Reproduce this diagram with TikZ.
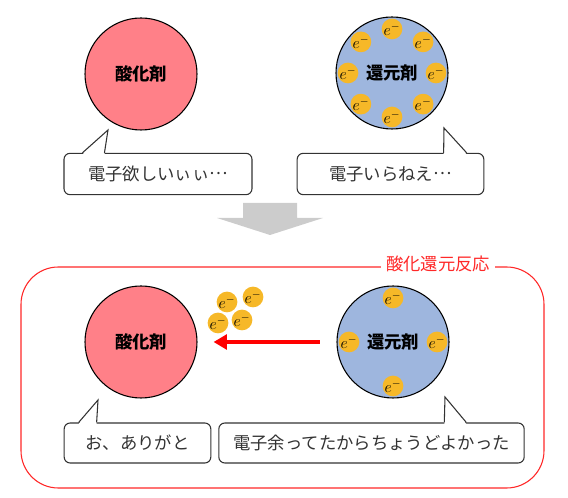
\documentclass[tikz,border=0pt]{standalone}
\usepackage{fontspec}
\setmainfont{Noto Sans CJK JP}
\usetikzlibrary{arrows.meta, positioning, calc}

\definecolor{oxpink}{RGB}{255,128,136}
\definecolor{redblue}{RGB}{158,182,222}
\definecolor{elecorange}{RGB}{246,184,40}
\definecolor{framered}{RGB}{255,40,40}

\begin{document}
\begin{tikzpicture}[
  x=0.75pt, y=-0.75pt,
  agent/.style={circle, draw=black, line width=0.8pt, minimum size=84pt,
    inner sep=0pt, font=\fontsize{13}{15}\selectfont\bfseries},
  oxidant/.style={agent, fill=oxpink},
  reductant/.style={agent, fill=redblue},
  electron/.style={circle, fill=elecorange, minimum size=12.5pt, inner sep=0pt,
    font=\fontsize{12}{12}\selectfont},
  bubble/.style={rectangle, rounded corners=4.5pt, draw=black!80, fill=white,
    line width=0.8pt, minimum height=31pt, inner sep=0pt, text=black!80,
    font=\fontsize{13}{15}\selectfont},
  tail/.style={draw=black!80, line width=0.8pt},
  transfer/.style={-{Triangle[length=10pt, width=11pt]}, draw=red, line width=2.6pt}
]
\useasboundingbox (0,0) rectangle (568,498);

% before
\node (ox1) [oxidant] at (141,74) {酸化剤};
\node (red1) [reductant] at (392,73) {還元剤};
\foreach \a in {0,45,...,315}
  \node (e1-\a) [electron] at ($(red1)+(\a:44)$) {$e^-$};

\node (b1) [bubble, minimum width=141pt] at (158,174) {電子欲しいぃぃ\raisebox{.35em}{…}};
\node (b2) [bubble, minimum width=140pt] at (390.5,174) {電子いらねえ\raisebox{.35em}{…}};

% arrow down
\fill[black!20] (243,203) -- (297,203) -- (297,218) -- (323,218) -- (270,235)
  -- (217,218) -- (243,218) -- cycle;

% reaction frame
\draw[framered, line width=0.8pt, rounded corners=28pt] (21,267) rectangle (544,488);
\node (rxn) [fill=white, text=framered, inner xsep=4pt, inner ysep=1pt,
  font=\fontsize{13}{15}\selectfont] at (438,264) {酸化還元反応};

% after
\node (ox2) [oxidant] at (141,342) {酸化剤};
\node (red2) [reductant] at (393,342) {還元剤};
\foreach \a in {0,90,180,270}
  \node (e2-\a) [electron] at ($(red2)+(\a:44)$) {$e^-$};

\node (fe1) [electron] at (227,302) {$e^-$};
\node (fe2) [electron] at (253,297) {$e^-$};
\node (fe3) [electron] at (218,323) {$e^-$};
\node (fe4) [electron] at (242,320) {$e^-$};

\draw[transfer, shorten <=12.5pt, shorten >=12pt] (red2) -- (ox2);

\node (b3) [bubble, minimum width=110pt, minimum height=30pt] at (137.5,443) {お、ありがと};
\node (b4) [bubble, minimum width=229pt, minimum height=30pt] at (371.5,443) {電子余ってたからちょうどよかった};

% bubble tails
\coordinate (t1) at (108,130);
\coordinate (t2) at (444,128);
\coordinate (t3) at (98,400);
\coordinate (t4) at (445,397);
\foreach \b/\t/\l/\r in {b1/t1/19/41, b2/t2/147/170, b3/t3/15/33, b4/t4/226/248} {
  \fill[white] ($(\b.north west)+(\l,1.5)$) -- (\t) -- ($(\b.north west)+(\r,1.5)$) -- cycle;
  \draw[tail] ($(\b.north west)+(\l,0)$) -- (\t) -- ($(\b.north west)+(\r,0)$);
}
\end{tikzpicture}
\end{document}
